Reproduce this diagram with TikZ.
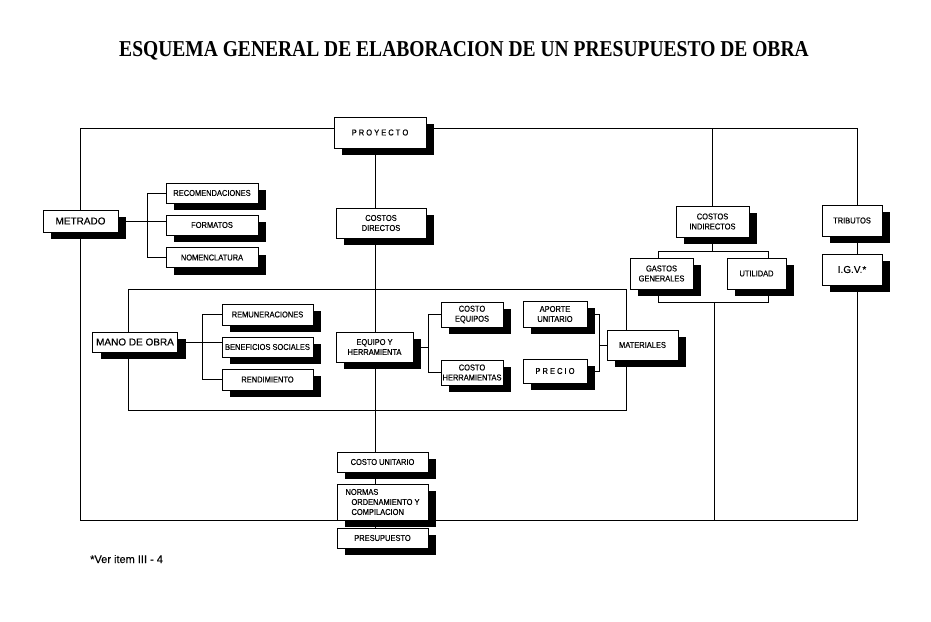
\documentclass[tikz,border=0pt]{standalone}
\usepackage{fontspec}
\setmainfont{Liberation Sans}
\newfontfamily\boxfont{Liberation Sans}[FakeStretch=0.88,FakeBold=0.4]
\newfontfamily\grandfont{Liberation Sans}[FakeBold=0.3]
\newfontfamily\titlefont{Liberation Serif}[FakeStretch=0.86]
\usetikzlibrary{shadows}

\begin{document}
\begin{tikzpicture}[x=1pt,y=-1pt,
  caja/.style={draw,fill=white,line width=1pt,inner sep=1pt,align=center,
    font=\boxfont\fontsize{8.5}{10}\selectfont,
    drop shadow={shadow xshift=8pt,shadow yshift=-7pt,fill=black,opacity=1}},
  cajag/.style={caja,font=\grandfont\fontsize{10}{12}\selectfont},
  linea/.style={line width=0.9pt}]
\useasboundingbox (0,0) rectangle (931,621);

\node[font=\titlefont\bfseries\fontsize{22.7}{26}\selectfont] (titulo) at (464,51) {ESQUEMA GENERAL DE ELABORACION DE UN PRESUPUESTO DE OBRA};

\node[caja,minimum width=92pt,minimum height=31pt] (proy) at (380,132.5) {P R O Y E C T O};
\node[caja,minimum width=90pt,minimum height=30pt] (cd) at (381,223) {COSTOS\\DIRECTOS};
\node[cajag,minimum width=75pt,minimum height=22pt] (metrado) at (80.5,221) {METRADO};
\node[caja,minimum width=92pt,minimum height=20pt] (recom) at (212,193) {RECOMENDACIONES};
\node[caja,minimum width=92pt,minimum height=20pt] (formatos) at (212,225) {FORMATOS};
\node[caja,minimum width=92pt,minimum height=20pt] (nomen) at (212,257.5) {NOMENCLATURA};
\node[cajag,minimum width=85pt,minimum height=20pt] (mano) at (135,342) {MANO DE OBRA};
\node[caja,minimum width=91pt,minimum height=21pt] (remun) at (267.5,314.5) {REMUNERACIONES};
\node[caja,minimum width=91pt,minimum height=20pt] (benef) at (267.5,347) {BENEFICIOS SOCIALES};
\node[caja,minimum width=91pt,minimum height=21pt] (rend) at (267.5,379.5) {RENDIMIENTO};
\node[caja,minimum width=77pt,minimum height=30pt] (equipo) at (374.5,347) {EQUIPO Y\\HERRAMIENTA};
\node[caja,minimum width=62pt,minimum height=25pt] (ceq) at (472,314.5) {COSTO\\EQUIPOS};
\node[caja,minimum width=62pt,minimum height=25pt] (cherr) at (472,372.5) {COSTO\\HERRAMIENTAS};
\node[caja,minimum width=64pt,minimum height=26pt] (aporte) at (555,314) {APORTE\\UNITARIO};
\node[caja,minimum width=64pt,minimum height=24pt] (precio) at (555,371) {P R E C I O};
\node[caja,minimum width=71pt,minimum height=30pt] (mater) at (642.5,345) {MATERIALES};
\node[caja,minimum width=91pt,minimum height=20pt] (cu) at (382.5,462) {COSTO UNITARIO};
\node[caja,minimum width=91pt,minimum height=36pt,align=left] (normas) at (382.5,502) {NORMAS\\\hspace*{6pt}ORDENAMIENTO Y\\\hspace*{6pt}COMPILACION};
\node[caja,minimum width=91pt,minimum height=20pt] (presup) at (382.5,538) {PRESUPUESTO};
\node[caja,minimum width=73pt,minimum height=31pt] (ci) at (712.5,221.5) {COSTOS\\INDIRECTOS};
\node[caja,minimum width=63pt,minimum height=31pt] (gastos) at (661.5,273.5) {GASTOS\\GENERALES};
\node[caja,minimum width=59pt,minimum height=31pt] (util) at (756.5,273.5) {UTILIDAD};
\node[caja,minimum width=60pt,minimum height=31pt] (trib) at (852,220.5) {TRIBUTOS};
\node[cajag,minimum width=60pt,minimum height=31pt] (igv) at (852,269.5) {I.G.V.*};

\node[anchor=base west,inner sep=0pt,font=\grandfont\fontsize{11}{13}\selectfont] (nota) at (90,563) {*Ver item III - 4};

\coordinate (ftl) at (80,128);
\coordinate (ftr) at (857,128);
\coordinate (fbl) at (80,520);
\coordinate (fbr) at (857,520);
\coordinate (itl) at (128,289);
\coordinate (itr) at (626,289);
\coordinate (ibl) at (128,410);
\coordinate (ibr) at (626,410);
\coordinate (eje) at (375,0);
\coordinate (b1) at (147,0);
\coordinate (b2) at (202,0);
\coordinate (b3) at (428,0);
\coordinate (b4) at (599,0);
\coordinate (gl) at (658,251);
\coordinate (gr) at (768,251);
\coordinate (gl2) at (658,302);
\coordinate (gr2) at (768,302);
\coordinate (gm) at (714,302);

\draw[linea] (proy.west |- ftl) -- (ftl) -- (ftl |- metrado.north);
\draw[linea] (metrado.south -| fbl) -- (fbl) -- (fbl -| normas.west);
\draw[linea] (normas.east |- fbr) -- (fbr) -- (fbr |- igv.south);
\draw[linea] (igv.north -| ftr) -- (trib.south -| ftr);
\draw[linea] (trib.north -| ftr) -- (ftr) -- (proy.east |- ftr);
\draw[linea] (ci.north) -- (ci.north |- ftr);
\draw[linea] (ci.south) -- (ci.south |- gl);
\draw[linea] (gastos.north -| gl) -- (gl) -- (gr) -- (util.north -| gr);
\draw[linea] (gastos.south -| gl2) -- (gl2) -- (gr2) -- (util.south -| gr2);
\draw[linea] (gm) -- (gm |- fbr);
\foreach \a/\b in {proy/cd,cd/equipo,equipo/cu,cu/normas,normas/presup}
  \draw[linea] (\a.south -| eje) -- (\b.north -| eje);

\draw[linea] (metrado.east) -- (metrado.east -| formatos.west);
\draw[linea] (recom.west) -- (recom.west -| b1) -- (nomen.west -| b1) -- (nomen.west);
\draw[linea] (mano.east) -- (mano.east -| benef.west);
\draw[linea] (remun.west) -- (remun.west -| b2) -- (rend.west -| b2) -- (rend.west);
\draw[linea] (equipo.east) -- (equipo.east -| b3);
\draw[linea] (ceq.west) -- (ceq.west -| b3) -- (cherr.west -| b3) -- (cherr.west);
\draw[linea] (aporte.east) -- (aporte.east -| b4) -- (precio.east -| b4) -- (precio.east);
\draw[linea] (mater.west) -- (mater.west -| b4);
\draw[linea] (mano.north -| itl) -- (itl) -- (itr) -- (mater.north -| itr);
\draw[linea] (mano.south -| ibl) -- (ibl) -- (ibr) -- (mater.south -| ibr);
\end{tikzpicture}
\end{document}
